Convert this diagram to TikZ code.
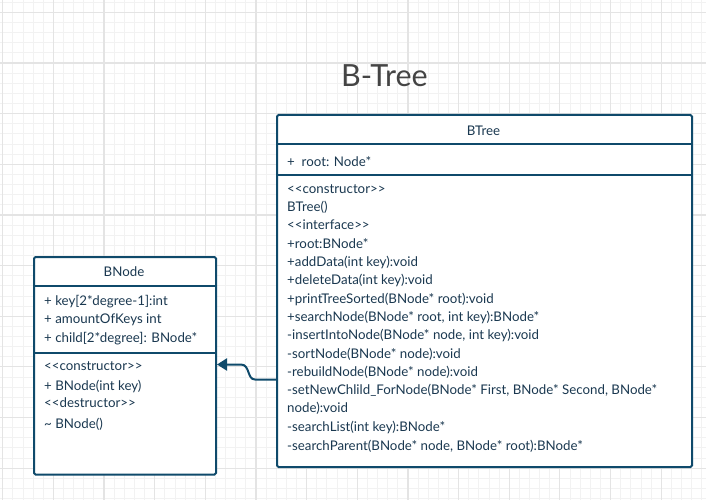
\documentclass[tikz,border=0pt]{standalone}
\usepackage{fontspec}
\setmainfont{Lato}
\usetikzlibrary{arrows.meta}
\definecolor{umlborder}{HTML}{0F4A6B}
\definecolor{umltext}{HTML}{1A3850}
\definecolor{gridmajor}{HTML}{E4E4E4}
\definecolor{gridminor}{HTML}{F2F2F2}
\definecolor{titlegray}{HTML}{444444}
\tikzset{
  umlbox/.style={draw=umlborder, line width=2pt, fill=white, rounded corners=1.5pt, inner sep=0pt, anchor=north west},
  divider/.style={draw=umlborder, line width=2pt},
  member/.style={anchor=base west, inner sep=0pt, text=umltext, font=\fontsize{13.3}{15}\selectfont},
  classname/.style={anchor=base, inner sep=0pt, text=umltext, font=\fontsize{13.3}{15}\selectfont},
  minorline/.style={draw=gridminor, line width=0.8pt},
  majorline/.style={draw=gridmajor, line width=1.2pt},
}
\newcommand{\lt}{<\kern0pt<}
\newcommand{\gt}{>\kern0pt>}
\begin{document}
\begin{tikzpicture}[x=1pt,y=-1pt]
\useasboundingbox (0,0) rectangle (706,500);
\fill[white] (0,0) rectangle (706,500);
% grid
\foreach \i in {0,...,70} {\draw[minorline] ({2.7+10.13*\i},0) -- ({2.7+10.13*\i},500);}
\foreach \i in {0,...,49} {\draw[minorline] (0,{2.17+10.13*\i}) -- (706,{2.17+10.13*\i});}
\foreach \i in {0,...,13} {\draw[majorline] ({2.7+50.65*\i},0) -- ({2.7+50.65*\i},500);}
\foreach \i in {0,...,9} {\draw[majorline] (0,{12.3+50.65*\i}) -- (706,{12.3+50.65*\i});}

% title
\node[anchor=base, inner sep=0pt, text=titlegray, font=\fontsize{30.5}{33}\selectfont] (title) at (384.5,86.7) {B-Tree};

% BTree class
\node[umlbox, minimum width=415pt, minimum height=352pt] (btree) at (276,114) {};
\draw[divider] (btree.west |- 0,144) -- (btree.east |- 0,144);
\draw[divider] (btree.west |- 0,174.5) -- (btree.east |- 0,174.5);
\node[classname] (btname) at (483.5,135.7) {BTree};
\node[member] (bt1) at (287,166) {+~ root: Node*};
\node[member] (bt2) at (287,193.3) {\lt constructor\gt};
\node[member] (bt3) at (287,211.6) {BTree()};
\node[member] (bt4) at (287,229.9) {\lt interface\gt};
\node[member] (bt5) at (287,248.2) {+root:BNode*};
\node[member] (bt6) at (287,266.5) {+addData(int key):void};
\node[member] (bt7) at (287,284.8) {+deleteData(int key):void};
\node[member] (bt8) at (287,303.1) {+printTreeSorted(BNode* root):void};
\node[member] (bt9) at (287,321.4) {+searchNode(BNode* root, int key):BNode*};
\node[member] (bt10) at (287,339.7) {-insertIntoNode(BNode* node, int key):void};
\node[member] (bt11) at (287,358) {-sortNode(BNode* node):void};
\node[member] (bt12) at (287,376.3) {-rebuildNode(BNode* node):void};
\node[member] (bt13) at (287,394.6) {-setNewChlild\_ForNode(BNode* First, BNode* Second, BNode*};
\node[member] (bt14) at (287,412.9) {node):void};
\node[member] (bt15) at (287,431.2) {-searchList(int key):BNode*};
\node[member] (bt16) at (287,450) {-searchParent(BNode* node, BNode* root):BNode*};

% BNode class
\node[umlbox, minimum width=182pt, minimum height=217.5pt] (bnode) at (33,256) {};
\draw[divider] (bnode.west |- 0,286) -- (bnode.east |- 0,286);
\draw[divider] (bnode.west |- 0,353) -- (bnode.east |- 0,353);
\node[classname] (bnname) at (124,276.7) {BNode};
\node[member] (bn1) at (44,305) {+ key[2*degree-1]:int};
\node[member] (bn2) at (44,323.3) {+ amountOfKeys int};
\node[member] (bn3) at (44,342.7) {+ child[2*degree]: BNode*};
\node[member] (bn4) at (44,370.7) {\lt constructor\gt};
\node[member] (bn5) at (44,390) {+ BNode(int key)};
\node[member] (bn6) at (44,407.7) {\lt destructor\gt};
\node[member] (bn7) at (44,428.3) {\textasciitilde{} BNode()};

% association
\draw[divider, -{Triangle[length=10pt,width=12pt]}]
  (btree.west |- 0,379.5) -- (255,379.5) .. controls (247,379.5) and (250,364.5) .. (241,364.5)
  -- (bnode.east |- 0,364.5);
\end{tikzpicture}
\end{document}
